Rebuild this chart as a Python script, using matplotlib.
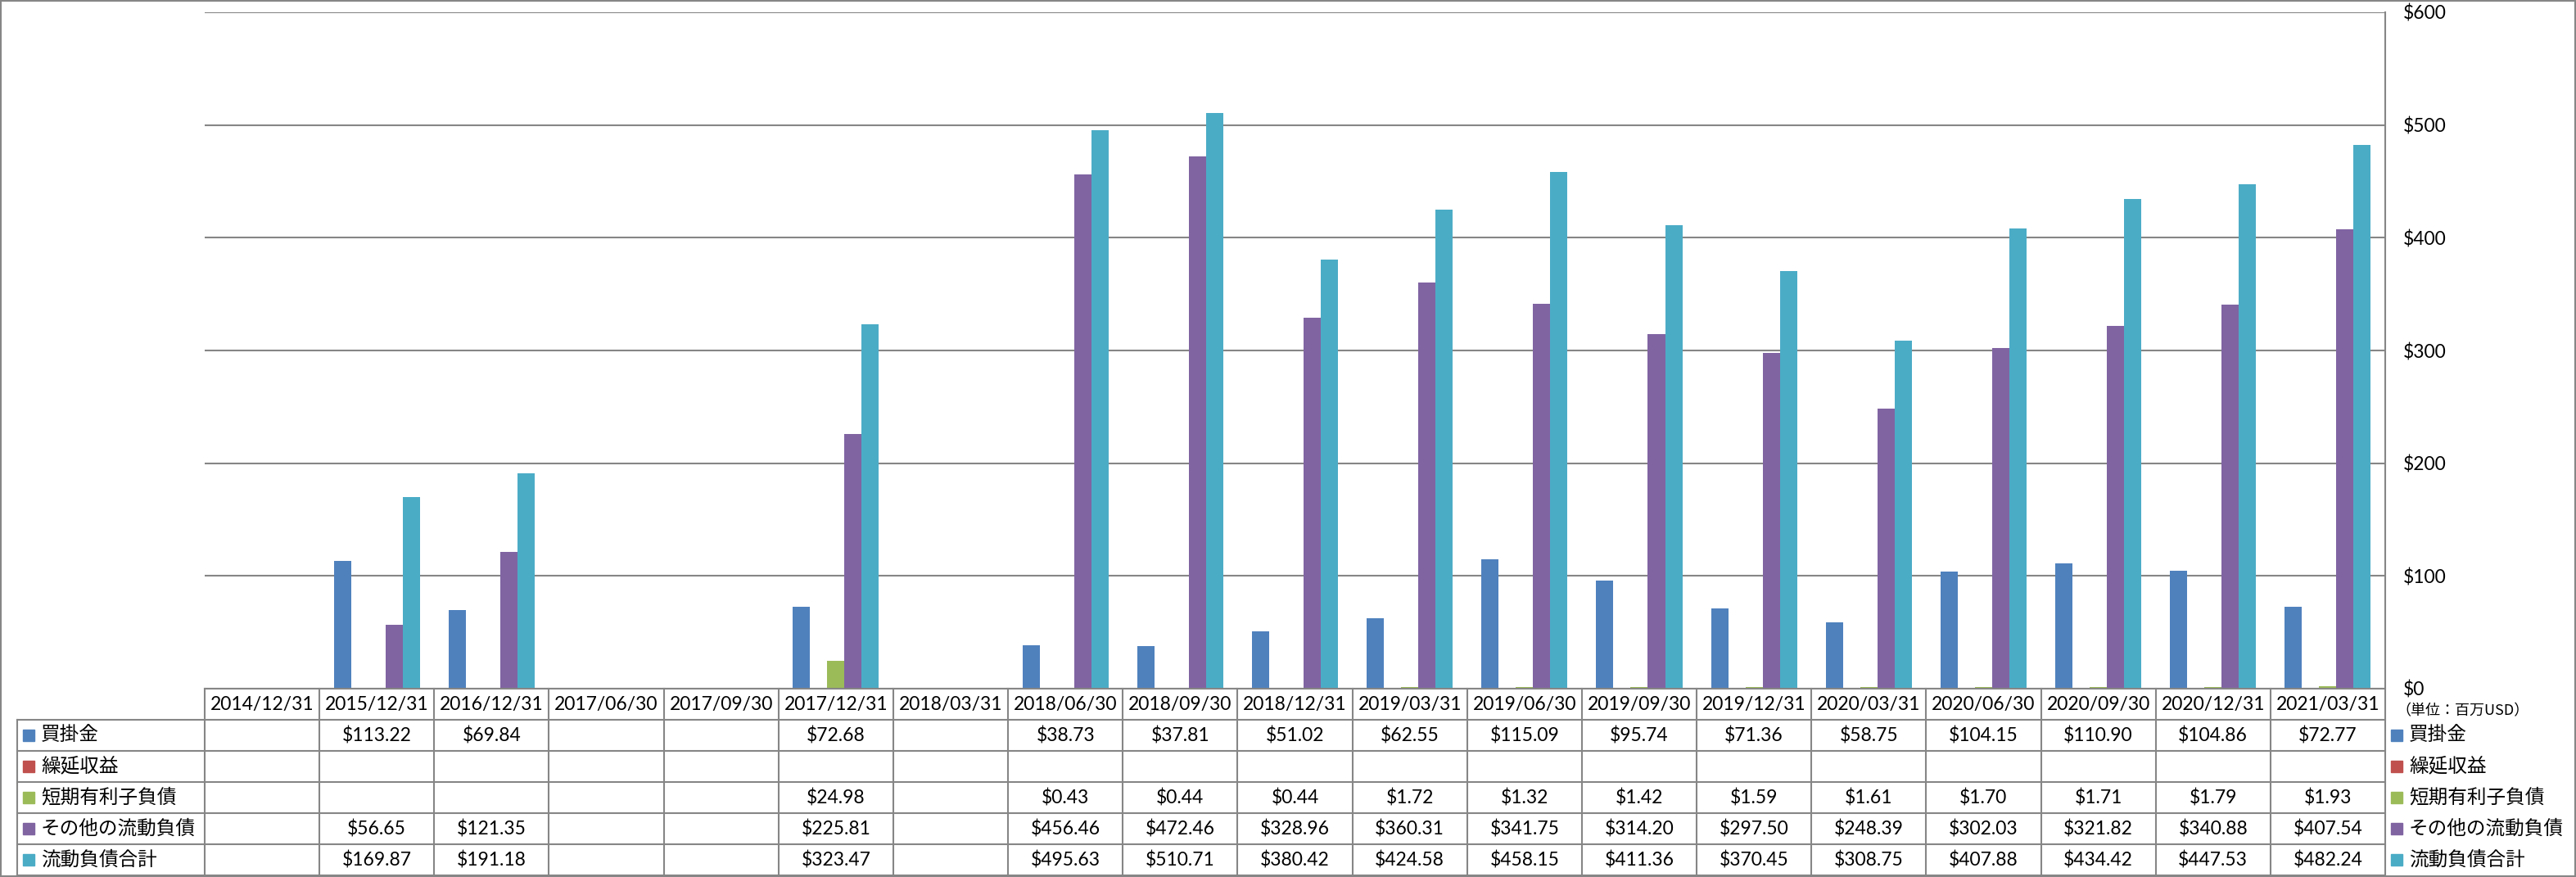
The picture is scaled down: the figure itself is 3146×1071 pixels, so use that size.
import matplotlib.pyplot as plt
import matplotlib.transforms as mtransforms
from matplotlib.lines import Line2D
from matplotlib.patches import Rectangle
import numpy as np

nan = np.nan

dates = ["2014/12/31", "2015/12/31", "2016/12/31", "2017/06/30", "2017/09/30",
         "2017/12/31", "2018/03/31", "2018/06/30", "2018/09/30", "2018/12/31",
         "2019/03/31", "2019/06/30", "2019/09/30", "2019/12/31", "2020/03/31",
         "2020/06/30", "2020/09/30", "2020/12/31", "2021/03/31"]

payables = [nan, 113.22, 69.84, nan, nan, 72.68, nan, 38.73, 37.81, 51.02,
            62.55, 115.09, 95.74, 71.36, 58.75, 104.15, 110.90, 104.86, 72.77]
deferred = [nan] * 19
short_debt = [nan, nan, nan, nan, nan, 24.98, nan, 0.43, 0.44, 0.44,
              1.72, 1.32, 1.42, 1.59, 1.61, 1.70, 1.71, 1.79, 1.93]
other_cl = [nan, 56.65, 121.35, nan, nan, 225.81, nan, 456.46, 472.46, 328.96,
            360.31, 341.75, 314.20, 297.50, 248.39, 302.03, 321.82, 340.88, 407.54]
total_cl = [nan, 169.87, 191.18, nan, nan, 323.47, nan, 495.63, 510.71, 380.42,
            424.58, 458.15, 411.36, 370.45, 308.75, 407.88, 434.42, 447.53, 482.24]

names = ["買掛金", "繰延収益", "短期有利子負債", "その他の流動負債", "流動負債合計"]
series = [payables, deferred, short_debt, other_cl, total_cl]
colors = ["#4F81BD", "#C0504D", "#9BBB59", "#8064A2", "#4BACC6"]

W, H = 3146, 1071
GRAY = "#868686"
NUM_FONT = ["Lato", "DejaVu Sans"]
JP_FONT = ["Noto Sans CJK JP", "DejaVu Sans"]


def fx(px):
    return px / W


def fy(py):
    return 1 - py / H


fig = plt.figure(figsize=(W / 100, H / 100), dpi=100)
ax = fig.add_axes([fx(250), fy(841), fx(2913) - fx(250), fy(15) - fy(841)])

n = len(dates)
x = np.arange(n)
bw = 0.15
for k, (vals, col) in enumerate(zip(series, colors)):
    vals = np.array(vals, dtype=float)
    m = ~np.isnan(vals)
    ax.bar(x[m] + (k - 2) * bw, vals[m], width=bw, color=col, zorder=3)

ax.set_xlim(-0.5, n - 0.5)
ax.set_ylim(0, 600)
ax.set_yticks(np.arange(0, 601, 100))
ax.set_yticklabels([f"${v}" for v in range(0, 601, 100)], family=NUM_FONT, fontsize=16.5)
ax.yaxis.tick_right()
ax.tick_params(axis="y", length=0, pad=16)
ax.set_xticks([])
ax.yaxis.grid(True, color=GRAY, lw=1.5, zorder=0)
for s in ax.spines.values():
    s.set_visible(False)

# unit label under the axis
fig.text(fx(2926), fy(868), "（単位：百万USD）", family=JP_FONT, fontsize=13,
         ha="left", va="center")

# data table
tb = mtransforms.blended_transform_factory(ax.transData, fig.transFigure)
row_lines = [841, 879, 917, 955, 993, 1031, 1069]

fig.add_artist(Line2D([-0.5, n - 0.5], [fy(841), fy(841)], transform=tb, color=GRAY, lw=1.5))
for py in row_lines[1:]:
    fig.add_artist(Line2D([fx(21), fx(2913)], [fy(py), fy(py)],
                          transform=fig.transFigure, color=GRAY, lw=1.5))
for i in range(n + 1):
    top = 15 if i == n else 841
    fig.add_artist(Line2D([i - 0.5, i - 0.5], [fy(top), fy(1069)], transform=tb,
                          color=GRAY, lw=1.5))
fig.add_artist(Line2D([fx(21), fx(21)], [fy(879), fy(1069)],
                      transform=fig.transFigure, color=GRAY, lw=1.5))

for i, d in enumerate(dates):
    fig.text(i, fy(860), d, transform=tb, family=NUM_FONT, fontsize=16.5,
             ha="center", va="center")

for r, (name, vals, col) in enumerate(zip(names, series, colors)):
    yc = (row_lines[r + 1] + row_lines[r + 2]) / 2
    for i, v in enumerate(vals):
        if not np.isnan(v):
            fig.text(i, fy(yc), f"${v:,.2f}", transform=tb, family=NUM_FONT,
                     fontsize=16.5, ha="center", va="center")
    # row header inside table
    fig.add_artist(Rectangle((fx(28), fy(yc + 7)), fx(14), 14 / H,
                             transform=fig.transFigure, color=col))
    fig.text(fx(50), fy(yc), name, family=JP_FONT, fontsize=17, ha="left", va="center")
    # legend on the right
    fig.add_artist(Rectangle((fx(2920), fy(yc + 7)), fx(14), 14 / H,
                             transform=fig.transFigure, color=col))
    fig.text(fx(2942), fy(yc), name, family=JP_FONT, fontsize=17, ha="left", va="center")

# outer chart border
fig.add_artist(Rectangle((fx(1), fy(1070)), fx(3144), 1069 / H, transform=fig.transFigure,
                         fill=False, edgecolor=GRAY, lw=1.5))

fig.savefig("out.png", dpi=100)
